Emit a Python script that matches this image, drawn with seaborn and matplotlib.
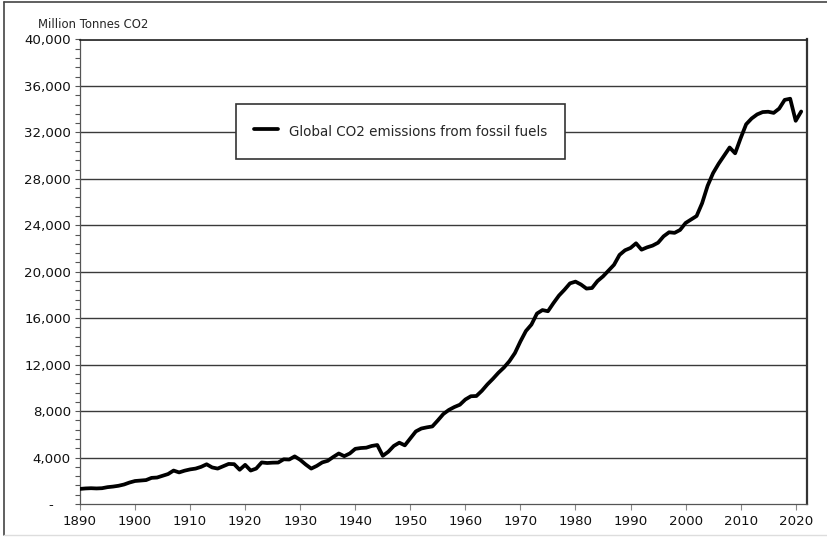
import numpy as np
import pandas as pd
import matplotlib
matplotlib.use("Agg")
import matplotlib.pyplot as plt
from matplotlib.ticker import MultipleLocator, FixedLocator, FuncFormatter
from matplotlib.lines import Line2D
import seaborn as sns

# ---------------- data ----------------
years = list(range(1890, 2022))
emissions = [
    1300, 1340, 1360, 1340, 1360, 1450, 1500, 1570, 1680, 1850,   # 1890-1899
    1980, 2020, 2060, 2250, 2280, 2430, 2580, 2880, 2720, 2870,   # 1900-1909
    2980, 3050, 3200, 3420, 3150, 3050, 3250, 3450, 3430, 2950,   # 1910-1919
    3370, 2880, 3050, 3580, 3530, 3560, 3570, 3850, 3830, 4100,   # 1920-1929
    3800, 3400, 3050, 3280, 3580, 3720, 4050, 4350, 4120, 4350,   # 1930-1939
    4750, 4820, 4850, 5000, 5080, 4150, 4500, 5000, 5280, 5050,   # 1940-1949
    5650, 6250, 6500, 6600, 6680, 7200, 7750, 8100, 8350, 8550,   # 1950-1959
    9000, 9280, 9300, 9750, 10300, 10780, 11300, 11750, 12300, 13000,  # 1960-1969
    14000, 14900, 15450, 16400, 16700, 16600, 17300, 17950, 18450, 19000,  # 1970-1979
    19150, 18900, 18550, 18600, 19200, 19600, 20100, 20600, 21450, 21850,  # 1980-1989
    22050, 22450, 21900, 22100, 22250, 22500, 23050, 23400, 23350, 23600,  # 1990-1999
    24200, 24500, 24800, 25900, 27400, 28500, 29300, 30000, 30700, 30200,  # 2000-2009
    31500, 32700, 33200, 33550, 33750, 33780, 33680, 34050, 34800, 34900,  # 2010-2019
    33000, 33800,                                                          # 2020-2021
]
series_label = "Global CO2 emissions from fossil fuels"
y_title = "Million Tonnes CO2"
x_ticks = list(range(1890, 2021, 10))
y_ticks = list(range(0, 40001, 4000))

df = pd.DataFrame({"Year": years, "Emissions": emissions, "Series": series_label})

# ---------------- style ----------------
sns.set_style("white")
plt.rcParams["font.family"] = ["DejaVu Sans"]

fig = plt.figure(figsize=(8.27, 5.38), dpi=100)
ax = fig.add_axes([80 / 827, 34 / 538, 726.7 / 827, 464.5 / 538])

sns.lineplot(data=df, x="Year", y="Emissions", hue="Series",
             palette=["black"], linewidth=2.7, ax=ax,
             solid_joinstyle="round", solid_capstyle="round", zorder=3)

ax.set_xlim(1890, 2022)
ax.set_ylim(0, 40000)

# grid lines
for v in y_ticks[1:]:
    ax.axhline(v, color="#3a3a3a", linewidth=1.0, zorder=1)

ax.yaxis.set_major_locator(FixedLocator(y_ticks))
ax.yaxis.set_minor_locator(MultipleLocator(800))
ax.xaxis.set_major_locator(FixedLocator(x_ticks))

def yfmt(v, pos):
    if v == 0:
        return "-    "
    return f"{int(v):,}"

ax.yaxis.set_major_formatter(FuncFormatter(yfmt))

ax.tick_params(axis="y", which="both", direction="out", length=3.5, width=0.8,
               color="#555555", left=True, labelsize=9.6, pad=3)
ax.tick_params(axis="x", which="major", direction="out", length=4, width=0.8,
               color="#888888", bottom=True, labelsize=9.6, pad=4)
for lab in ax.get_xticklabels() + ax.get_yticklabels():
    lab.set_color("#111111")
ax.set_xlabel("")
ax.set_ylabel("")

for side in ["left", "bottom"]:
    ax.spines[side].set_color("#555555")
    ax.spines[side].set_linewidth(0.9)
ax.spines["top"].set_color("#222222")
ax.spines["top"].set_linewidth(1.2)
ax.spines["right"].set_color("#333333")
ax.spines["right"].set_linewidth(1.6)

# y-axis title
fig.text(38 / 827, 1 - 24 / 538, y_title, fontsize=8.4, ha="left", va="center")

# legend
leg = ax.legend(loc="upper left", bbox_to_anchor=((236 - 80) / 726.7, (504 - 104) / 464.5),
                frameon=True, fancybox=False, shadow=False, fontsize=9.75,
                borderpad=1.3, handlelength=1.8, handleheight=1.9, handletextpad=0.8,
                borderaxespad=0, title=None)
leg.get_frame().set_edgecolor("#333333")
leg.get_frame().set_linewidth(1.2)
leg.get_frame().set_facecolor("white")
leg.get_frame().set_alpha(1)
for h in leg.get_lines():
    h.set_linewidth(2.7)
leg.set_zorder(5)

# outer frame of the picture
fig.add_artist(Line2D([4 / 827, 1], [1 - 2 / 538, 1 - 2 / 538], color="#444444", linewidth=1.2))
fig.add_artist(Line2D([4 / 827, 4 / 827], [3 / 538, 1 - 2 / 538], color="#444444", linewidth=1.2))
fig.add_artist(Line2D([4 / 827, 1], [3 / 538, 3 / 538], color="#dddddd", linewidth=1.0))

fig.savefig("out.png", dpi=100)
